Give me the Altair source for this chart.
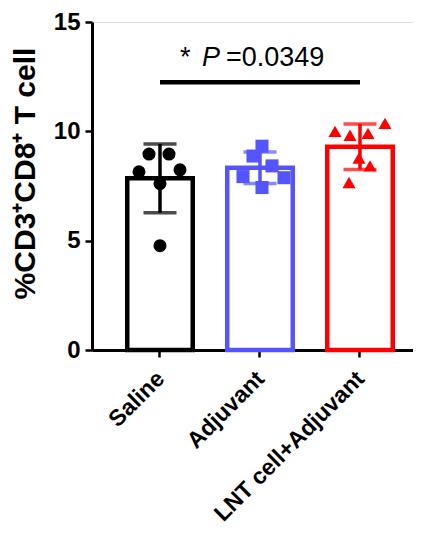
import altair as alt
import pandas as pd

# ---- data ----
groups = ["Saline", "Adjuvant", "LNT cell+Adjuvant"]
colors = ["#000000", "#5555ff", "#ff0000"]
shapes = ["circle", "square", "triangle-up"]
means = [7.85, 8.33, 9.30]
sds = [1.57, 0.72, 1.04]

saline_vals = [8.96, 8.96, 8.15, 8.24, 7.61, 4.77]
saline_jit = [-11, 9, -21, 20, 0, 0]
adjuvant_vals = [9.32, 8.87, 8.42, 7.93, 7.88, 7.43]
adjuvant_jit = [2, -7, 12, -17, 24, 2]
lnt_vals = [10.36, 10.0, 9.82, 9.91, 8.78, 8.42, 7.66]
lnt_jit = [25, -25, -10, 8, -1, 10, -11]

sig_from, sig_to, sig_y = "Saline", "LNT cell+Adjuvant", 12.25
sig_star, sig_p, sig_val = "*", "P", "=0.0349"
sig_text_y = 13.0

y_title = "%CD3⁺CD8⁺ T cell"
y_ticks = [0, 5, 10, 15]

# ---- tables ----
summary = pd.DataFrame({
    "group": groups,
    "mean": means,
    "lo": [m - s for m, s in zip(means, sds)],
    "hi": [m + s for m, s in zip(means, sds)],
})
pts = pd.DataFrame({
    "group": ["Saline"] * len(saline_vals) + ["Adjuvant"] * len(adjuvant_vals)
    + ["LNT cell+Adjuvant"] * len(lnt_vals),
    "value": saline_vals + adjuvant_vals + lnt_vals,
    "jit": saline_jit + adjuvant_jit + lnt_jit,
})
sig = pd.DataFrame({"a": [sig_from], "b": [sig_to], "y": [sig_y],
                    "ty": [sig_text_y], "mid": ["Adjuvant"]})

FONT = "Liberation Sans"

x_enc = alt.X(
    "group:N",
    sort=groups,
    scale=alt.Scale(domain=groups, paddingInner=0.345, paddingOuter=0.2775, align=0.635),
    axis=alt.Axis(
        title=None, labelAngle=-45, labelFontSize=23, labelFontWeight="bold",
        labelFont=FONT, labelColor="black", tickSize=7, tickWidth=2.5,
        tickColor="black", domainColor="black", domainWidth=3, labelPadding=10,
        labelLimit=500, labelOffset=-7,
    ),
)
y_scale = alt.Scale(domain=[0, 15], nice=False)
y_axis = alt.Axis(
    values=y_ticks, title=y_title, titleFont=FONT, titleFontSize=30,
    titleFontWeight="bold", titleColor="black", titleX=-58, titleY=151,
    titleBaseline="alphabetic", labelFont=FONT, labelFontSize=24,
    labelFontWeight="bold", labelColor="black", tickSize=7, tickWidth=2.5,
    tickColor="black", domainColor="black", domainWidth=3, labelPadding=5,
    grid=False,
)
color_scale = alt.Scale(domain=groups, range=colors)

base = alt.Chart(summary)

bars = base.mark_bar(fill="white", strokeWidth=4.5, width=65.5).encode(
    x=x_enc,
    y=alt.Y("mean:Q", scale=y_scale, axis=y_axis),
    stroke=alt.Stroke("group:N", scale=color_scale, legend=None),
)
err = base.mark_rule(strokeWidth=3.5).encode(
    x=alt.X("group:N", sort=groups),
    y="lo:Q", y2="hi:Q",
    color=alt.Color("group:N", scale=color_scale, legend=None),
)
cap_lo = base.mark_tick(size=33, thickness=3.5).encode(
    x=alt.X("group:N", sort=groups), y="lo:Q",
    color=alt.Color("group:N", scale=color_scale, legend=None),
)
cap_hi = base.mark_tick(size=33, thickness=3.5).encode(
    x=alt.X("group:N", sort=groups), y="hi:Q",
    color=alt.Color("group:N", scale=color_scale, legend=None),
)
points = alt.Chart(pts).mark_point(filled=True, opacity=1, size=170).encode(
    x=alt.X("group:N", sort=groups),
    xOffset=alt.XOffset("jit:Q", scale=alt.Scale(domain=[-32.75, 32.75])),
    y="value:Q",
    color=alt.Color("group:N", scale=color_scale, legend=None),
    shape=alt.Shape("group:N", scale=alt.Scale(domain=groups, range=shapes), legend=None),
)
sig_line = alt.Chart(sig).mark_rule(strokeWidth=4.5, color="black").encode(
    x=alt.X("a:N", sort=groups), x2="b:N", y="y:Q",
)
t_star = alt.Chart(sig).mark_text(text=sig_star, font=FONT, fontSize=27, align="left",
                                  baseline="alphabetic", dx=-80, color="black").encode(
    x=alt.X("mid:N", sort=groups), y="ty:Q")
t_p = alt.Chart(sig).mark_text(text=sig_p, font=FONT, fontSize=27, fontStyle="italic",
                               align="left", baseline="alphabetic", dx=-58, color="black").encode(
    x=alt.X("mid:N", sort=groups), y="ty:Q")
t_val = alt.Chart(sig).mark_text(text=sig_val, font=FONT, fontSize=27, align="left",
                                 baseline="alphabetic", dx=-34, color="black").encode(
    x=alt.X("mid:N", sort=groups), y="ty:Q")

chart = alt.layer(bars, err, cap_lo, cap_hi, points, sig_line, t_star, t_p, t_val).properties(
    width=321, height=328,
    autosize=alt.AutoSizeParams(type="none"),
    padding={"left": 84, "top": 14, "right": 0, "bottom": 180},
).configure_view(stroke=None).configure(background="white")

chart.save("out.html", embed_options={"renderer": "svg", "actions": False})
